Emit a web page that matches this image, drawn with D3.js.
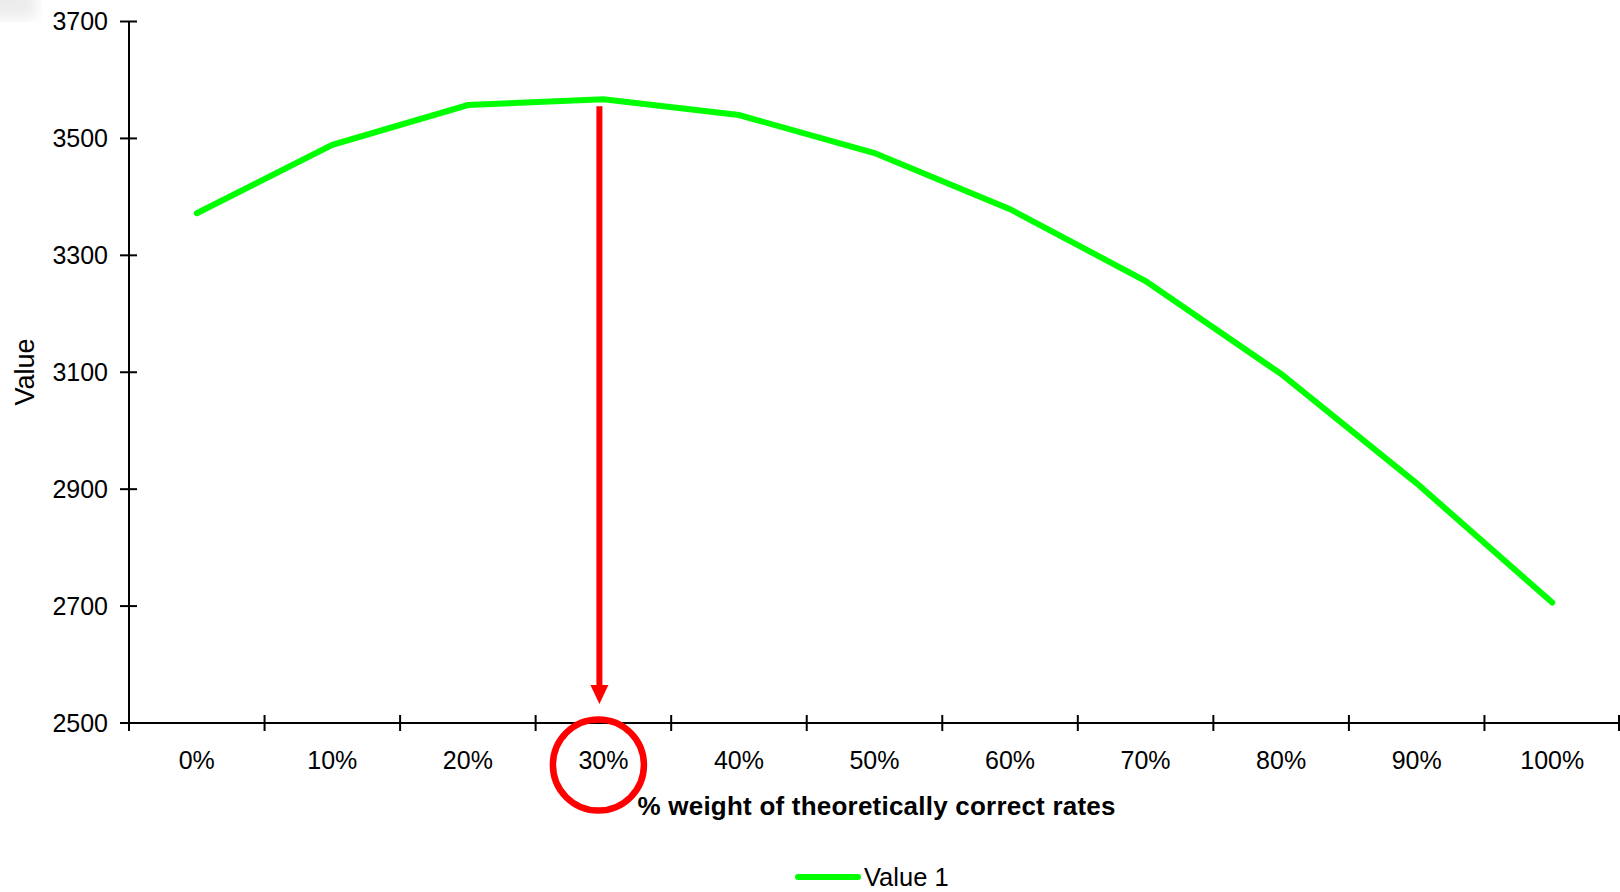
<!DOCTYPE html>
<html>
<head>
<meta charset="utf-8">
<script src="https://cdn.jsdelivr.net/npm/d3@7"></script>
<style>
  html, body { margin: 0; padding: 0; background: #fff; }
  svg { display: block; font-family: "Liberation Sans", Arial, sans-serif; }
</style>
</head>
<body>
<svg id="chart" width="1620" height="892"></svg>
<script>
// Weight of theoretically correct rates vs. resulting value
const categories = ["0%", "10%", "20%", "30%", "40%", "50%", "60%", "70%", "80%", "90%", "100%"];
const values = [3372, 3489, 3557, 3567, 3540, 3475, 3379, 3256, 3097, 2910, 2706];
const yTicks = [2500, 2700, 2900, 3100, 3300, 3500, 3700];
const seriesName = "Value 1";
const xTitle = "% weight of theoretically correct rates";
const yTitle = "Value";
const highlight = "30%";

(function draw() {
  const svg = d3.select("#chart");
  const plotLeft = 129, plotRight = 1620, plotTop = 21.5, plotBottom = 723;

  // faint shade in the top-left corner
  const defs = svg.append("defs");
  defs.append("filter").attr("id", "soft")
    .append("feGaussianBlur").attr("stdDeviation", 7);
  svg.append("rect").attr("x", -20).attr("y", -20).attr("width", 56).attr("height", 38)
    .attr("fill", "#ececec").attr("filter", "url(#soft)");

  const x = d3.scaleBand().domain(categories).range([plotLeft, plotRight]).padding(0);
  const y = d3.scaleLinear().domain([2500, 3700]).range([plotBottom, plotTop]);
  const cx = d => x(d) + x.bandwidth() / 2;

  // y axis
  const yAxis = svg.append("g");
  yAxis.append("line").attr("x1", plotLeft).attr("x2", plotLeft).attr("y1", y(3700)).attr("y2", plotBottom + 8)
    .attr("stroke", "#000").attr("stroke-width", 2);
  yAxis.selectAll("line.tick").data(yTicks).join("line").attr("class", "tick")
    .attr("x1", plotLeft - 9).attr("x2", plotLeft + 8)
    .attr("y1", d => y(d)).attr("y2", d => y(d))
    .attr("stroke", "#000").attr("stroke-width", 2);
  yAxis.selectAll("text").data(yTicks).join("text")
    .attr("x", plotLeft - 21).attr("y", d => y(d)).attr("dy", "0.35em")
    .attr("text-anchor", "end").attr("font-size", 25).attr("fill", "#000")
    .text(d => d);

  // x axis
  const xAxis = svg.append("g");
  xAxis.append("line").attr("x1", plotLeft).attr("x2", plotRight).attr("y1", plotBottom).attr("y2", plotBottom)
    .attr("stroke", "#000").attr("stroke-width", 2);
  const boundaries = categories.map(c => x(c)).concat([x(categories[categories.length - 1]) + x.bandwidth()]);
  xAxis.selectAll("line.tick").data(boundaries.slice(1)).join("line").attr("class", "tick")
    .attr("x1", d => Math.min(d, plotRight - 1)).attr("x2", d => Math.min(d, plotRight - 1))
    .attr("y1", plotBottom - 8).attr("y2", plotBottom + 8)
    .attr("stroke", "#000").attr("stroke-width", 2);
  xAxis.selectAll("text").data(categories).join("text")
    .attr("x", d => cx(d)).attr("y", 769)
    .attr("text-anchor", "middle").attr("font-size", 25).attr("fill", "#000")
    .text(d => d);

  // axis titles
  svg.append("text").attr("x", (plotLeft + plotRight) / 2 + 2).attr("y", 815)
    .attr("text-anchor", "middle").attr("font-size", 26).attr("font-weight", "bold")
    .attr("textLength", 478).attr("lengthAdjust", "spacing")
    .text(xTitle);
  svg.append("text").attr("transform", "translate(34, 372) rotate(-90)")
    .attr("text-anchor", "middle").attr("font-size", 27)
    .text(yTitle);

  // series line
  const line = d3.line().x((d, i) => cx(categories[i])).y(d => y(d));
  svg.append("path").datum(values).attr("d", line)
    .attr("fill", "none").attr("stroke", "#00ff00").attr("stroke-width", 6)
    .attr("stroke-linejoin", "miter").attr("stroke-linecap", "round");

  // highlight of the peak weight
  const hi = categories.indexOf(highlight);
  const ax = cx(highlight) - 4;
  const ann = svg.append("g").attr("fill", "#ff0000").attr("stroke", "#ff0000");
  ann.append("line").attr("x1", ax).attr("x2", ax).attr("y1", y(values[hi]) + 7).attr("y2", 686)
    .attr("stroke-width", 6);
  ann.append("path").attr("stroke", "none")
    .attr("d", `M${ax - 9},685 L${ax + 9},685 L${ax},704 Z`);
  ann.append("circle").attr("cx", ax - 1).attr("cy", 765).attr("r", 45.5)
    .attr("fill", "none").attr("stroke-width", 6.5);

  // legend
  const lg = svg.append("g");
  lg.append("line").attr("x1", 798).attr("x2", 858).attr("y1", 877).attr("y2", 877)
    .attr("stroke", "#00ff00").attr("stroke-width", 6).attr("stroke-linecap", "round");
  lg.append("text").attr("x", 864).attr("y", 886).attr("font-size", 25.5).text(seriesName);
})();
</script>
</body>
</html>
